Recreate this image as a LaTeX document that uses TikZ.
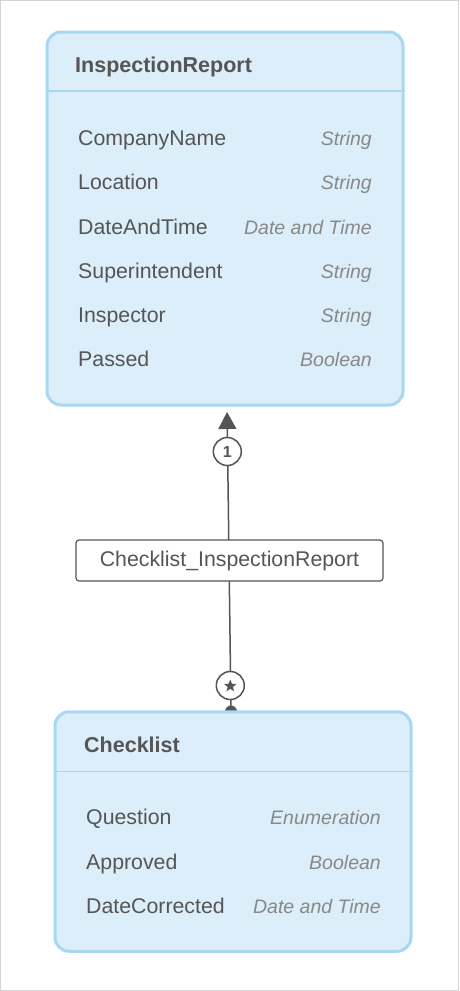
\documentclass[tikz,border=0pt]{standalone}
\usepackage{fontspec}
\usetikzlibrary{arrows.meta,calc,shapes.geometric}
\newfontfamily\arialf{Liberation Sans}
\newcommand{\attrfont}{\arialf\fontsize{21.3}{25}\selectfont}
\newcommand{\typefont}{\arialf\itshape\fontsize{19.5}{23}\selectfont}
\newcommand{\ttlfont}{\arialf\bfseries\fontsize{21.5}{25}\selectfont}
\newcommand{\multfont}{\arialf\bfseries\fontsize{16}{18}\selectfont}
\definecolor{boxborder}{HTML}{A8D8F0}
\definecolor{boxfill}{HTML}{DCEEF9}
\definecolor{txt}{HTML}{555555}
\definecolor{typec}{HTML}{888888}
\definecolor{linec}{HTML}{555555}
\definecolor{framec}{HTML}{D4D4D4}
\tikzset{
  classbox/.style={draw=boxborder, line width=3pt, fill=boxfill, rounded corners=14pt, inner sep=0pt, minimum width=356pt},
  sepline/.style={draw=boxborder, line width=1.5pt},
  ttl/.style={font=\ttlfont, text=txt, anchor=base west, inner sep=0pt},
  attr/.style={font=\attrfont, text=txt, anchor=base west, inner sep=0pt},
  atype/.style={font=\typefont, text=typec, anchor=base east, inner sep=0pt},
  conn/.style={draw=linec, line width=1.5pt},
  mult/.style={circle, draw=linec, line width=1.5pt, fill=white, minimum size=28pt, inner sep=0pt, font=\multfont, text=linec},
  lbl/.style={draw=linec, line width=1.2pt, fill=white, rounded corners=3pt, minimum width=307pt, minimum height=41pt, inner sep=0pt, font=\attrfont, text=txt},
  framebox/.style={draw=framec, line width=1pt}
}
\begin{document}
\begin{tikzpicture}[x=1pt,y=-1pt]
\useasboundingbox (0,0) rectangle (459,991);
\fill[white] (0,0) rectangle (459,991);
\draw[framebox] (0.5,0.5) rectangle (458.5,990.5);

% end points of the association
\coordinate (bot) at (231,711.5);
\coordinate (top) at (227,405);
\draw[conn, -{Triangle[length=17pt,width=18pt]}, shorten >=7pt] (bot) -- (top);
\fill[linec] (bot) circle (6pt);

% association label and multiplicities
\node[lbl] (assoc) at (229.5,560.5) {Checklist\_InspectionReport};
\node[mult] (m1) at (227.3,451.5) {1};
\node[mult] (m2) at (230.3,685.5) {};
\node[star, star points=5, star point ratio=2.3, fill=linec, minimum size=13pt, inner sep=0pt] (m2star) at ([yshift=-0.5pt]m2.center) {};

% InspectionReport class
\node[classbox, minimum height=373pt] (ir) at (225,218.5) {};
\draw[sepline] ([yshift=-60.5pt]ir.north west) -- ([yshift=-60.5pt]ir.north east);
\node[ttl] (irt) at (75,72.5) {InspectionReport};
\node[attr] (ir1) at (78,145.7) {CompanyName};
\node[atype] (ir1t) at (372,145.7) {String};
\node[attr] (ir2) at (78,189.9) {Location};
\node[atype] (ir2t) at (372,189.9) {String};
\node[attr] (ir3) at (78,234.1) {DateAndTime};
\node[atype] (ir3t) at (372,234.1) {Date and Time};
\node[attr] (ir4) at (78,278.3) {Superintendent};
\node[atype] (ir4t) at (372,278.3) {String};
\node[attr] (ir5) at (78,322.5) {Inspector};
\node[atype] (ir5t) at (372,322.5) {String};
\node[attr] (ir6) at (78,366.7) {Passed};
\node[atype] (ir6t) at (372,366.7) {Boolean};

% Checklist class
\node[classbox, minimum height=239.5pt] (cl) at (233,831.5) {};
\draw[sepline] ([yshift=-61pt]cl.north west) -- ([yshift=-61pt]cl.north east);
\node[ttl] (clt) at (84,752) {Checklist};
\node[attr] (cl1) at (86,824.5) {Question};
\node[atype] (cl1t) at (381,824.5) {Enumeration};
\node[attr] (cl2) at (86,869) {Approved};
\node[atype] (cl2t) at (381,869) {Boolean};
\node[attr] (cl3) at (86,913.5) {DateCorrected};
\node[atype] (cl3t) at (381,913.5) {Date and Time};
\end{tikzpicture}
\end{document}
